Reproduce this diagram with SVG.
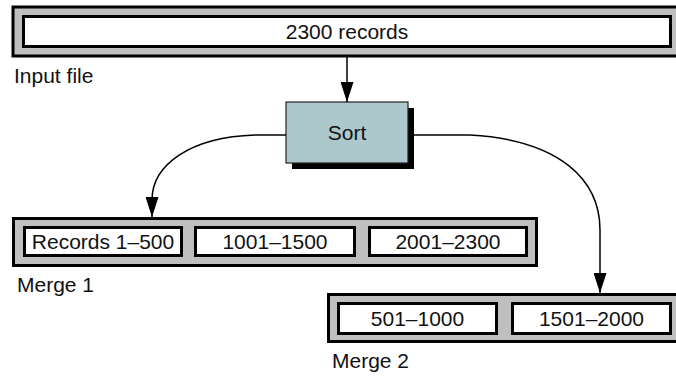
<svg xmlns="http://www.w3.org/2000/svg" width="676" height="376" viewBox="0 0 676 376">
<style>
.outer{fill:#bfbfbf;stroke:#000;stroke-width:3}
.inner{fill:#fff;stroke:#000;stroke-width:3}
.t{font-family:"Liberation Sans",Arial,sans-serif;font-size:21px;fill:#111}
.c{text-anchor:middle}
.conn{fill:none;stroke:#000;stroke-width:1.5}
</style>
<defs>
<marker id="ah" markerUnits="userSpaceOnUse" markerWidth="20" markerHeight="13" refX="20" refY="6.5" orient="auto" viewBox="0 0 20 13">
<path d="M0,0 L20,6.5 L0,13 z" fill="#000"/>
</marker>
</defs>
<rect width="676" height="376" fill="#fff"/>
<g id="input">
<rect class="outer" x="13" y="7" width="680" height="49"/>
<rect class="inner" x="23.5" y="16.5" width="647" height="30"/>
<text class="t c" x="347" y="39">2300 records</text>
<text class="t" x="14" y="83">Input file</text>
</g>
<g id="sort">
<rect x="292" y="108" width="122" height="61" fill="#000"/>
<rect x="286" y="102" width="122" height="61" fill="#acc8cc" stroke="#222" stroke-width="1.2"/>
<text class="t c" x="347" y="140">Sort</text>
</g>
<g id="merge1">
<rect class="outer" x="13.5" y="218.5" width="523" height="47"/>
<rect class="inner" x="24.5" y="227.5" width="157" height="28"/>
<rect class="inner" x="195.5" y="227.5" width="159" height="28"/>
<rect class="inner" x="369.5" y="227.5" width="157" height="28"/>
<text class="t c" x="103" y="249">Records 1–500</text>
<text class="t c" x="275" y="249">1001–1500</text>
<text class="t c" x="448" y="249">2001–2300</text>
<text class="t" x="17" y="292">Merge 1</text>
</g>
<g id="merge2">
<rect class="outer" x="328.5" y="294.5" width="360" height="47"/>
<rect class="inner" x="338.5" y="303.5" width="158" height="30"/>
<rect class="inner" x="512.5" y="303.5" width="158" height="30"/>
<text class="t c" x="417.5" y="326">501–1000</text>
<text class="t c" x="591.5" y="326">1501–2000</text>
<text class="t" x="332" y="368">Merge 2</text>
</g>
<g id="connectors">
<path class="conn" d="M347,57 L347,102" marker-end="url(#ah)"/>
<path class="conn" d="M286,135 L255,135 C190,137 152,165 152,200 L152,217" marker-end="url(#ah)"/>
<path class="conn" d="M414,135 L470,135 C560,140 600,180 600,230 L600,293" marker-end="url(#ah)"/>
</g>
</svg>
